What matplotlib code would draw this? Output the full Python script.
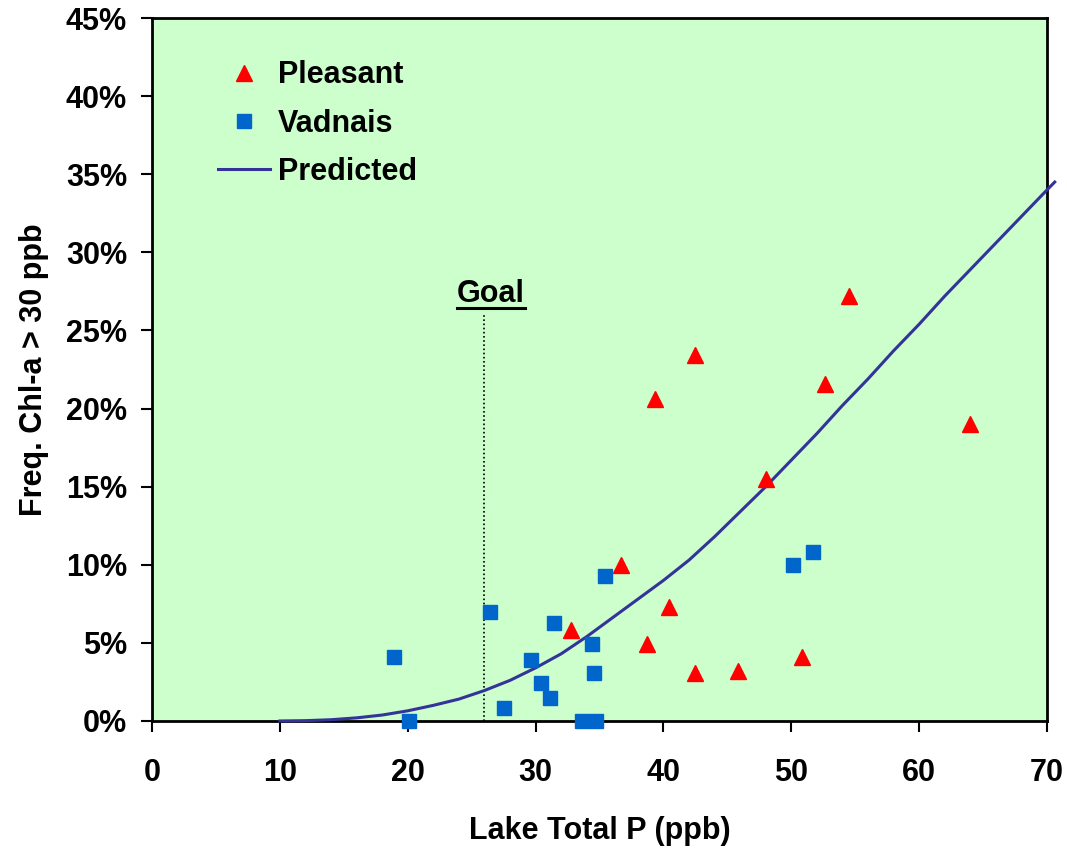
import numpy as np
import matplotlib.pyplot as plt
from matplotlib.lines import Line2D
from matplotlib.ticker import FuncFormatter

plt.rcParams['font.family'] = ['Liberation Sans', 'DejaVu Sans']
plt.rcParams['font.weight'] = 'bold'

# Pleasant lake observations (TP ppb, freq %)
pleasant_tp = [32.8, 36.7, 38.7, 39.3, 40.4, 42.5, 42.5, 45.8, 48.0, 50.8, 52.6, 54.5, 64.0]
pleasant_freq = [5.8, 10.0, 4.9, 20.6, 7.3, 23.4, 3.1, 3.2, 15.5, 4.1, 21.6, 27.2, 19.0]

# Vadnais lake observations
vadnais_tp = [18.9, 20.1, 26.4, 27.5, 29.6, 30.4, 31.1, 31.4, 33.6, 34.4, 34.6, 34.7, 35.4, 50.1, 51.7]
vadnais_freq = [4.1, 0.0, 7.0, 0.8, 3.9, 2.4, 1.5, 6.3, 0.0, 4.9, 3.1, 0.0, 9.3, 10.0, 10.8]

# Predicted curve
pred_tp = [10, 12, 14, 16, 18, 20, 22, 24, 26, 28, 30, 32, 34, 36, 38, 40, 42, 44, 46,
           48, 50, 52, 54, 56, 58, 60, 62, 64, 66, 68, 70, 70.6]
pred_freq = [0.0, 0.02, 0.08, 0.2, 0.38, 0.65, 1.0, 1.4, 1.95, 2.6, 3.4, 4.3, 5.4, 6.6, 7.8,
             9.0, 10.3, 11.8, 13.4, 15.0, 16.7, 18.4, 20.2, 21.9, 23.7, 25.4, 27.2, 28.9,
             30.6, 32.3, 34.0, 34.5]

goal_tp = 26

fs = 22

fig = plt.figure(figsize=(10.67, 8.5), dpi=100)
ax = fig.add_axes([0.1425, 0.1518, 0.8388, 0.827])
ax.set_facecolor('#CCFFCC')

ax.plot(pred_tp, pred_freq, color='#333399', lw=2.2, clip_on=False, zorder=3, label='Predicted')
ax.plot(pleasant_tp, pleasant_freq, '^', color='#FF0000', ms=11, mec='#FF0000', ls='none',
        clip_on=False, zorder=4, label='Pleasant')
ax.plot(vadnais_tp, vadnais_freq, 's', color='#0066CC', ms=9.5, mec='#0066CC', ls='none',
        clip_on=False, zorder=4, label='Vadnais')

# goal line
ax.plot([goal_tp, goal_tp], [0, 26.1], color='black', lw=1.2, ls=(0, (1, 1.5)), zorder=2)
goal_txt = ax.text(goal_tp + 0.5, 26.35, 'Goal', ha='center', va='bottom', fontsize=fs,
                   fontweight='bold')

ax.set_xlim(0, 70)
ax.set_ylim(0, 45)
ax.set_xticks(range(0, 71, 10))
ax.set_yticks(range(0, 46, 5))
ax.yaxis.set_major_formatter(FuncFormatter(lambda v, p: f'{int(v)}%'))
ax.tick_params(direction='out', length=8, width=1.5, labelsize=fs, colors='black')
ax.tick_params(axis='x', pad=19)
ax.tick_params(axis='y', pad=10)
for s in ax.spines.values():
    s.set_linewidth(2)
    s.set_color('black')

ax.set_xlabel('Lake Total P (ppb)', fontsize=fs, fontweight='bold', labelpad=20)
ax.set_ylabel('Freq. Chl-a > 30 ppb', fontsize=fs, fontweight='bold', labelpad=12)

handles, labels = ax.get_legend_handles_labels()
order = [1, 2, 0]
ax.legend([handles[i] for i in order], [labels[i] for i in order], loc='upper left',
          bbox_to_anchor=(0.074, 0.94), frameon=False, borderpad=0, borderaxespad=0,
          handlelength=1.7, handletextpad=0.25, labelspacing=0.6,
          prop={'weight': 'bold', 'size': fs})

# underline for Goal
fig.canvas.draw()
bb = goal_txt.get_window_extent()
inv = fig.transFigure.inverted()
x0, y0 = inv.transform((bb.x0, bb.y0 + 1))
x1, _ = inv.transform((bb.x1, bb.y0 + 1))
fig.add_artist(Line2D([x0, x1], [y0, y0], color='black', lw=2.2))

fig.savefig('out.png', dpi=100)
